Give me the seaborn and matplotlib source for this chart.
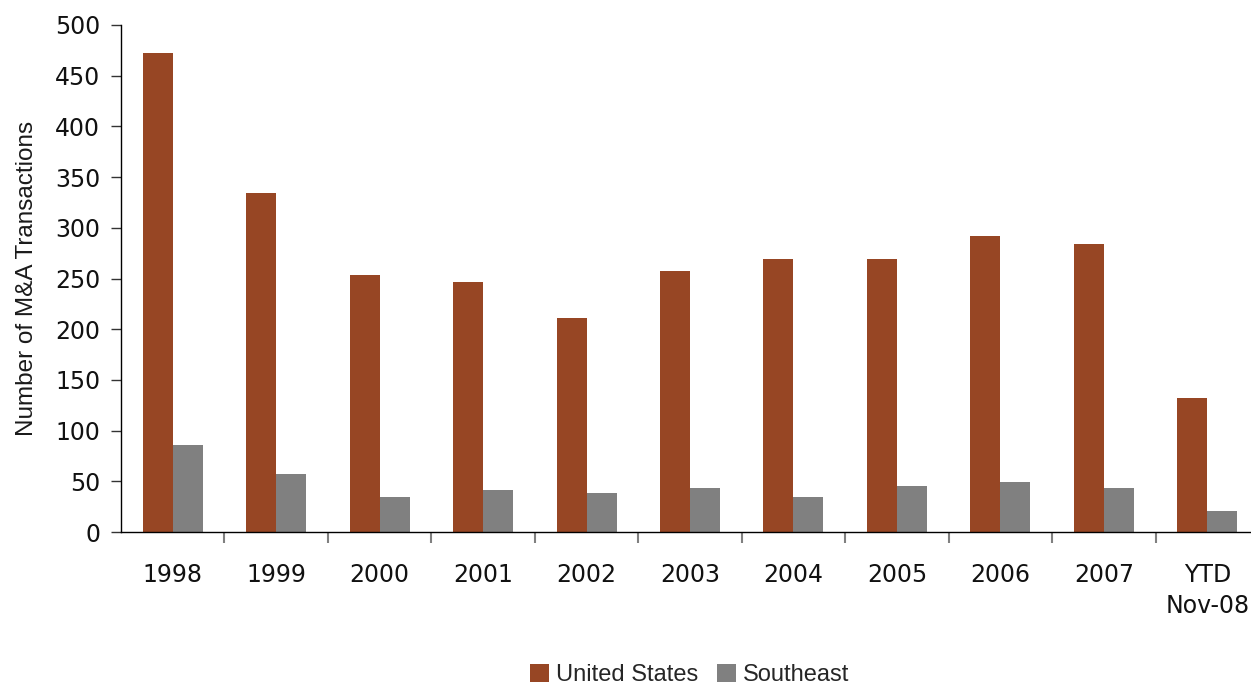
import matplotlib
matplotlib.use("Agg")
import matplotlib.pyplot as plt
import seaborn as sns
import pandas as pd
import numpy as np
from matplotlib.ticker import FixedLocator

categories = ["1998", "1999", "2000", "2001", "2002", "2003", "2004", "2005", "2006", "2007", "YTD\nNov-08"]
united_states = [472, 334, 253, 247, 211, 257, 269, 269, 292, 284, 132]
southeast = [86, 57, 35, 41, 38, 43, 35, 45, 49, 43, 21]
series_names = ["United States", "Southeast"]
colors = ["#974624", "#808080"]

df = pd.DataFrame({
    "Year": categories * 2,
    "Series": [series_names[0]] * len(categories) + [series_names[1]] * len(categories),
    "Value": united_states + southeast,
})

sns.set_theme(style="white")
plt.rcParams["font.family"] = ["Liberation Sans", "DejaVu Sans"]

fig = plt.figure(figsize=(12.51, 6.85), dpi=100)
ax = fig.add_axes([121 / 1251, (685 - 532) / 685, 1138 / 1251, 507 / 685])

sns.barplot(data=df, x="Year", y="Value", hue="Series", order=categories,
            hue_order=series_names, palette=colors, width=0.58, gap=0,
            saturation=1, linewidth=0, ax=ax, legend=True)

ax.set_ylim(0, 500)
ax.set_xlim(-0.5, len(categories) - 0.5)
ax.set_yticks(np.arange(0, 501, 50))
ax.set_xlabel("")
ax.set_ylabel("Number of M&A Transactions", fontsize=17.5, color="#1a1a1a", labelpad=12)

for s in ["top", "right"]:
    ax.spines[s].set_visible(False)
for s in ["left", "bottom"]:
    ax.spines[s].set_color("#000000")
    ax.spines[s].set_linewidth(1.0)

ax.tick_params(axis="y", which="major", direction="out", length=7, width=1,
               color="#333333", pad=8, left=True, labelcolor="#111111")
ax.tick_params(axis="x", which="major", length=0, pad=22, labelcolor="#111111")
for lbl in ax.get_xticklabels() + ax.get_yticklabels():
    lbl.set_fontfamily(["DejaVu Sans"])
    lbl.set_fontsize(17)
ax.xaxis.set_minor_locator(FixedLocator(np.arange(0.5, len(categories) - 0.5, 1)))
ax.tick_params(axis="x", which="minor", direction="out", length=8, width=1.5,
               color="#808080", bottom=True)
for lbl in ax.get_xticklabels():
    lbl.set_linespacing(1.38)

handles, labels = ax.get_legend_handles_labels()
ax.legend_.remove()
fig.legend(handles, labels, loc="center", bbox_to_anchor=(690 / 1251, 1 - 675 / 685),
           ncol=2, frameon=False, fontsize=17, handlelength=0.8, handleheight=0.8,
           handletextpad=0.3, columnspacing=0.8, borderaxespad=0, borderpad=0)

fig.savefig("out.png", dpi=100)
